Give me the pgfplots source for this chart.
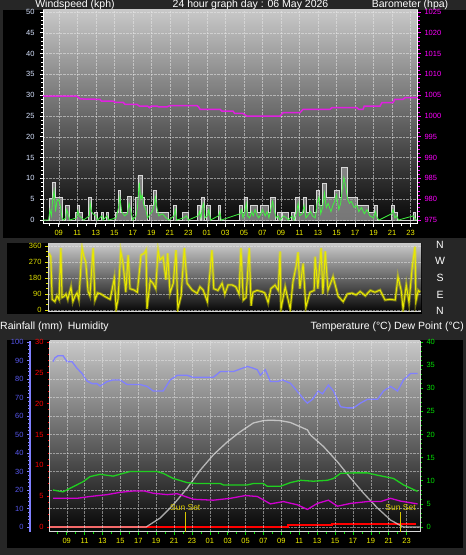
\documentclass[border=0pt]{standalone}
\usepackage{pgfplots}
\pgfplotsset{compat=1.18}
\usepackage{fontspec}
\setmainfont{Liberation Sans}
\definecolor{bgdark}{HTML}{262626}
\definecolor{gtop}{HTML}{C8C8C8}
\definecolor{gbot}{HTML}{050505}
\definecolor{windlab}{HTML}{D8E4FF}
\definecolor{baro}{HTML}{E020E0}
\definecolor{barolab}{HTML}{FF00FF}
\definecolor{xlab}{HTML}{F0F000}
\definecolor{gust}{HTML}{D8D8D8}
\definecolor{speed}{HTML}{40F040}
\definecolor{dirc}{HTML}{E8E800}
\definecolor{dirlab}{HTML}{E0E000}
\definecolor{humc}{HTML}{8080FF}
\definecolor{humlab}{HTML}{5858F0}
\definecolor{rainc}{HTML}{FF0000}
\definecolor{tempc}{HTML}{20D020}
\definecolor{templab}{HTML}{00E000}
\definecolor{dewc}{HTML}{D000D0}
\definecolor{sunc}{HTML}{D8C800}
\definecolor{gridc}{HTML}{E8E8E8}
\pgfplotsset{
  wx/.style={scale only axis, anchor=south west,
    /pgf/number format/assume math mode=true,
    /pgf/number format/1000 sep={},
    ticklabel style={font=\fontsize{7.5}{8}\selectfont},
    tick align=outside, major tick length=3pt, minor tick length=2pt,
  },
  hours/.style={xtick={9,11,...,47},
    xticklabels={09,11,13,15,17,19,21,23,01,03,05,07,09,11,13,15,17,19,21,23},
    minor xtick={8,10,...,46}, xticklabel style={xlab}},
}
\begin{document}
\begin{tikzpicture}[x=1pt,y=1pt]
\useasboundingbox (0,0) rectangle (466,555);
\fill[bgdark] (0,0) rectangle (466,555);
\fill[black] (3,317) rectangle (466,545);
\fill[black] (7,241) rectangle (422,312);
\fill[black] (7,7) rectangle (463,215);
\begin{scope}[font=\fontsize{10.5}{11}\selectfont, white]
\node[anchor=base] at (75,547.5) {Windspeed (kph)};
\node[anchor=base] at (250.5,547.5) {24 hour graph day : 06 May 2026};
\node[anchor=base] at (410,547.5) {Barometer (hpa)};
\node[anchor=base west, inner sep=0pt] at (0,225) {Rainfall (mm)\enspace Humidity};
\node[anchor=base east, inner sep=0pt] at (464,225) {Temperature (°C) Dew Point (°C)};
\node[anchor=center] at (440,310) {N};
\node[anchor=center] at (440,294) {W};
\node[anchor=center] at (440,277) {S};
\node[anchor=center] at (440,260) {E};
\node[anchor=center] at (440,244) {N};
\end{scope}
% ---------------- Panel 1: wind speed ----------------
\begin{axis}[wx, hours, at={(43pt,331pt)}, width=375pt, height=214pt,
  xmin=7.3, xmax=47.8, ymin=-0.96, ymax=50.48,
  axis background/.style={top color=gtop, bottom color=gbot},
  axis x line*=bottom, axis y line*=left,
  axis line style={white, line width=1pt},
  tick style={white, line width=0.6pt},
  ytick={0,5,...,50}, minor ytick={1,2,...,49},
  yticklabel style={windlab, xshift=-2pt},
  grid=major, major grid style={gridc, densely dotted, line width=0.4pt, opacity=0.55},
]
\addplot[draw=gust, fill=gray!70, fill opacity=0.7, line width=0.8pt] coordinates {
(7.3,0) (7.95,0) (7.95,5.2) (8.3,5.2) (8.3,9) (8.65,9) (8.65,5.5) (9.35,5.5) (9.35,0)
(9.7,0) (9.7,3.6) (10.2,3.6) (10.2,0)
(10.8,0) (10.8,1.8) (11.0,1.8) (11.0,3.5) (11.2,3.5) (11.2,1.8) (11.6,1.8) (11.6,0)
(12.25,0) (12.25,5.5) (12.55,5.5) (12.55,0)
(12.9,0) (12.9,1.8) (13.15,1.8) (13.15,0)
(13.6,0) (13.6,1.8) (13.8,1.8) (13.8,0)
(14.15,0) (14.15,1.8) (14.35,1.8) (14.35,0)
(15.1,0) (15.1,1.8) (15.4,1.8) (15.4,7.1) (15.7,7.1) (15.7,1.8) (16.45,1.8) (16.45,5.6) (16.9,5.6) (16.9,0)
(17.3,0) (17.3,5.5) (17.55,5.5) (17.55,10.7) (18.0,10.7) (18.0,5.5) (18.3,5.5) (18.3,3.5) (18.6,3.5) (18.6,0)
(18.8,0) (18.8,3.5) (19.25,3.5) (19.25,7.1) (19.6,7.1) (19.6,1.8) (20.8,1.8) (20.8,0)
(21.4,0) (21.4,3.5) (21.7,3.5) (21.7,0)
(22.4,0) (22.4,1.8) (23.0,1.8) (23.0,0)
(24.0,0) (24.0,3.5) (24.25,3.5) (24.25,0)
(24.45,0) (24.45,5.5) (24.7,5.5) (24.7,0)
(25.0,0) (25.0,3.5) (25.35,3.5) (25.35,0)
(26.2,0) (26.2,3.5) (26.5,3.5) (26.5,0)
(28.55,0) (28.55,3.5) (28.8,3.5) (28.8,1.8) (29.0,1.8) (29.0,5.5) (29.35,5.5) (29.35,1.8) (29.75,1.8) (29.75,3.5) (30.5,3.5) (30.5,1.8) (30.75,1.8) (30.75,3.5) (31.6,3.5) (31.6,1.8) (31.9,1.8) (31.9,5.5) (32.35,5.5) (32.35,0)
(32.6,0) (32.6,1.8) (33.0,1.8) (33.0,0)
(33.2,0) (33.2,1.8) (33.75,1.8) (33.75,0)
(34.1,0) (34.1,1.8) (34.4,1.8) (34.4,0)
(34.6,0) (34.6,5.5) (34.95,5.5) (34.95,1.8) (35.4,1.8) (35.4,5.5) (35.7,5.5) (35.7,1.8) (36.1,1.8) (36.1,3.5) (36.5,3.5) (36.5,1.8) (36.8,1.8) (36.8,7.1) (37.2,7.1) (37.2,3.5) (37.5,3.5) (37.5,8.8) (37.9,8.8) (37.9,5.5) (38.75,5.5) (38.75,7.1) (39.3,7.1) (39.3,5.5) (39.5,5.5) (39.5,12.7) (40.15,12.7) (40.15,5.5) (41.3,5.5) (41.3,3.5) (42.4,3.5) (42.4,1.8) (43.1,1.8) (43.1,3.5) (43.4,3.5) (43.4,0)
(44.9,0) (44.9,3.5) (45.2,3.5) (45.2,1.8) (45.6,1.8) (45.6,0)
(47.25,0) (47.25,1.8) (47.5,1.8) (47.5,0) (47.8,0)
} \closedcycle;
\addplot[speed, line width=0.8pt] coordinates {
(7.3,0) (7.9,0) (8.05,2.5) (8.2,1) (8.35,5) (8.5,7) (8.65,2) (8.8,4.5) (9.0,5) (9.2,3) (9.35,0.5) (9.5,0) (9.75,0.5) (9.85,2.5) (10.0,1.5) (10.2,0) (10.9,0.5) (11.05,2.2) (11.2,1) (11.5,0.5) (11.7,0) (12.3,1) (12.4,4) (12.55,2) (12.7,1.5) (13.0,1) (13.2,0) (13.65,1) (13.8,0) (14.2,1) (14.4,0) (15.2,0.5) (15.45,3) (15.6,5.5) (15.8,2) (16.1,1) (16.4,1.5) (16.6,4) (16.8,2) (17.0,0) (17.35,1) (17.5,3) (17.7,9) (17.85,5) (18.0,6) (18.2,3.5) (18.4,2.5) (18.6,0.5) (18.9,1.5) (19.1,2) (19.3,3.5) (19.45,5.5) (19.6,3) (19.8,1) (20.2,1.5) (20.6,0.5) (20.9,0) (21.45,1) (21.6,2.5) (21.75,0) (22.5,0.5) (22.8,1) (23.0,0) (24.05,1) (24.2,2) (24.35,0.5) (24.5,3) (24.65,4) (24.8,0.5) (25.05,1) (25.2,2.5) (25.4,0) (26.25,1) (26.4,2) (26.55,0) (28.6,1.5) (28.75,2.5) (28.9,0.5) (29.1,2) (29.25,4) (29.4,1) (29.6,0.5) (29.85,2) (30.0,1) (30.2,2.5) (30.45,1) (30.6,0.5) (30.85,1.5) (31.0,2.5) (31.3,1) (31.5,2) (31.7,0.5) (31.95,3) (32.1,4.5) (32.3,2) (32.5,0.5) (32.7,1) (32.9,0) (33.3,1) (33.6,0.5) (33.8,0) (34.2,1) (34.4,0) (34.7,2) (34.85,4) (35.0,1) (35.3,1.5) (35.5,3.5) (35.7,0.5) (36.2,2) (36.4,1) (36.7,0.5) (36.9,4) (37.1,5.5) (37.3,1.5) (37.5,3) (37.7,6.5) (37.9,3) (38.1,4) (38.4,2) (38.6,3.5) (38.8,4.5) (39.0,6) (39.25,2.5) (39.45,4) (39.6,7) (39.8,10.2) (40.0,8) (40.2,5) (40.4,4) (40.6,4.5) (40.9,3) (41.2,3.5) (41.4,2) (41.7,3) (42.0,1.5) (42.3,2.5) (42.6,1) (43.0,0.5) (43.2,2) (43.4,0.5) (43.6,0) (44.95,1.5) (45.1,2.5) (45.3,0.5) (45.5,1) (45.7,0) (47.3,1) (47.45,0.5) (47.6,0) (47.8,0)
};
\end{axis}
\begin{axis}[wx, at={(43pt,331pt)}, width=375pt, height=214pt,
  xmin=7.3, xmax=47.8, ymin=974.04, ymax=1025.48,
  axis x line=none, axis y line*=right,
  axis line style={white, line width=1pt},
  tick style={barolab, line width=0.6pt},
  ytick={975,980,...,1025}, minor ytick={976,...,1024},
  yticklabel style={barolab},
]
\addplot[baro, line width=1.5pt] coordinates {
(7.3,1004.76) (10.97,1004.76) (11.3,1004.1) (13.46,1004.0) (13.6,1003.6) (14.86,1003.6) (15.08,1003.3) (15.94,1003.3) (16.16,1002.8) (17.45,1002.8) (17.7,1002.4) (18.6,1002.4) (18.8,1002.0) (19.0,1002.4) (19.61,1002.4) (19.8,1002.2) (20.69,1002.2) (21.02,1002.5) (23.93,1002.5) (24.1,1002.2) (24.26,1001.6) (26.42,1001.6) (26.6,1001.2) (27.82,1001.2) (28.0,1000.6) (28.9,1000.6) (29.33,999.95) (32.9,999.95) (33.22,1000.8) (35.06,1000.8) (35.38,1001.6) (38.3,1001.6) (38.5,1002.0) (41.2,1002.0) (41.4,1001.6) (41.86,1001.6) (42.0,1002.4) (43.7,1002.4) (43.9,1003.2) (45.1,1003.2) (45.3,1004.0) (46.18,1004.0) (46.4,1004.4) (47.8,1004.4)
};
\end{axis}
% ---------------- Panel 2: wind direction ----------------
\begin{axis}[wx, at={(48pt,243pt)}, width=373pt, height=68pt,
  xmin=7.3, xmax=47.8, ymin=-11.25, ymax=371.25,
  axis background/.style={top color=gtop, bottom color=gbot},
  axis x line*=bottom, axis y line*=left,
  axis line style={white!85!black, line width=1pt},
  xtick=\empty,
  ytick={0,90,180,270,360}, minor ytick={30,60,...,330},
  tick style={dirlab, line width=0.6pt},
  yticklabel style={dirlab},
  ymajorgrids, major grid style={gridc, densely dotted, line width=0.4pt, opacity=0.5},
]
\pgfplotstableread{
h d
7.4 320
7.6 300
7.75 60
8.05 47
8.28 80
8.5 60
8.7 349
8.82 70
9.0 75
9.25 90
9.45 60
9.7 110
9.8 129
10.0 47
10.25 80
10.45 96
10.65 60
11.0 349
11.2 300
11.4 270
11.65 104
11.85 80
12.2 349
12.4 56
12.7 96
13.05 90
13.5 75
14.05 60
14.5 180
14.7 6
14.9 60
15.2 330
15.45 262
15.75 100
16.0 309
16.2 120
16.65 112
17.0 100
17.4 309
17.75 319
17.95 337
18.05 6
18.4 168
18.7 150
19.0 120
19.25 337
19.45 281
19.8 300
20.1 170
20.3 319
20.55 96
20.9 150
21.2 337
21.4 6
21.75 80
22.1 349
22.4 150
22.95 112
23.5 94
23.8 130
24.15 112
24.6 47
25.1 337
25.3 120
25.75 110
26.2 150
26.5 90
26.85 141
27.3 141
27.7 130
28.05 90
28.25 349
28.5 56
28.8 70
29.15 349
29.35 24
29.55 100
30.0 110
30.55 103
30.85 95
31.2 42
31.5 120
31.95 140
32.3 110
32.5 330
32.6 6
33.05 130
33.6 6
33.9 159
34.25 250
34.45 325
34.65 120
35.0 262
35.3 15
35.75 100
36.2 110
36.3 300
36.6 120
36.95 349
37.15 90
37.4 330
37.7 112
38.25 187
38.8 78
39.35 47
39.8 90
40.3 95
40.75 85
41.2 104
41.75 80
42.3 110
42.8 100
43.35 112
43.9 56
44.45 60
45.0 56
45.3 187
45.65 110
45.85 6
46.2 140
46.5 42
46.85 243
47.15 356
47.25 50
47.5 110
47.7 100
}\dirtable
\addplot[dirc, line width=2.8pt, opacity=0.4] table[x=h, y=d] {\dirtable};
\addplot[dirc, line width=1pt] table[x=h, y=d] {\dirtable};
\end{axis}
% ---------------- Panel 3: humidity / rain / temperature ----------------
\begin{axis}[wx, at={(50pt,23pt)}, width=370pt, height=191pt,
  xmin=7.13, xmax=48.5, ymin=-2.70, ymax=100.54,
  axis background/.style={top color=gtop, bottom color=gbot},
  axis x line=none, axis y line*=left,
  axis y line shift=20pt,
  axis line style={humc, line width=1.5pt},
  xtick=\empty,
  ytick={0,10,...,100}, minor ytick={2,4,...,98},
  tick style={humc, line width=0.6pt},
  yticklabel style={humlab},
  ymajorgrids, major grid style={gridc, densely dotted, line width=0.4pt, opacity=0.5},
]
\addplot[humc, line width=1.3pt] coordinates {
(7.47,89.4) (7.69,91.5) (8.03,92.6) (8.59,92.6) (9.03,89.4) (9.59,89.4) (10.15,85.8) (10.71,83) (11.27,78.9) (11.83,77.5) (12.39,77.5) (12.73,76.2) (13.51,78.6) (14.19,79.5) (14.97,79.5) (15.75,77) (17.21,77) (17.99,76) (18.67,73.5) (19.79,73.5) (20.57,79.5) (21.35,82) (22.47,82) (23.15,80.9) (25.39,80.9) (26.17,84) (27.63,84) (28.41,85.4) (29.19,86.8) (29.75,86) (30.31,85) (30.65,82) (31.21,85) (31.77,78.6) (32.55,78.6) (33.11,79.5) (34.01,77.7) (34.35,75.8) (35.13,71.3) (35.58,68.5) (35.91,67) (36.47,69) (37.13,73.5) (37.6,72) (38.26,76.7) (38.83,73.5) (39.61,65) (40.39,64.4) (41.07,64.4) (41.85,67) (42.63,69) (43.75,69) (44.42,73.5) (45.21,76) (45.99,73.5) (46.66,79.5) (47.45,83) (48.23,83)
};
\end{axis}
\begin{axis}[wx, at={(50pt,23pt)}, width=370pt, height=191pt,
  xmin=7.13, xmax=48.5, ymin=-0.81, ymax=30.16,
  axis x line=none, axis y line*=left,
  axis line style={white!85!black, line width=1pt},
  ytick={0,5,...,30}, minor ytick={1,...,29},
  tick style={rainc, line width=0.8pt},
  yticklabel style={rainc},
]
\addplot[rainc, line width=1.8pt] coordinates {
(7.13,0) (33.78,0) (33.78,0.35) (38.7,0.35) (38.7,0.55) (48.0,0.55)
};
\end{axis}
\begin{axis}[wx, hours, at={(50pt,23pt)}, width=370pt, height=191pt,
  xmin=7.13, xmax=48.5, ymin=-1.08, ymax=40.22,
  axis x line*=bottom, axis y line*=right,
  axis line style={white!85!black, line width=1pt},
  tick style={templab, line width=0.6pt},
  ytick={0,5,...,40}, minor ytick={1,...,39},
  yticklabel style={templab},
  xmajorgrids, major grid style={gridc, densely dotted, line width=0.4pt, opacity=0.5},
]
\addplot[gray!20, line width=1.3pt, opacity=0.7] coordinates {
(7.13,0) (17.88,0) (19.45,1.95) (20.91,4.8) (22.47,8.4) (23.93,12.3) (25.39,15.6) (26.95,18.4) (28.07,20.1) (28.41,20.6) (29.87,22.5) (30.98,23.0) (31.77,23.1) (32.9,23.0) (34.01,22.6) (35.91,21) (36.25,19.9) (37.71,17.4) (39.27,14.1) (40.73,10.6) (42.19,7.3) (43.75,4.1) (45.21,1.5) (46.33,0.3) (46.66,0) (48.5,0)
};
\addplot[tempc, line width=1.3pt] coordinates {
(7.47,8.0) (8.59,7.6) (9.71,8.7) (10.83,9.8) (11.61,10.9) (12.73,11.4) (14.19,11.0) (15.31,11.6) (16.09,12.0) (19.11,12.0) (19.79,11.6) (20.91,10.5) (22.47,9.6) (23.59,9.4) (26.17,9.4) (26.51,9.1) (29.19,9.1) (29.86,9.4) (30.98,9.4) (31.43,8.8) (32.89,8.8) (34.01,9.6) (35.13,10.1) (36.58,9.9) (38.15,10.1) (38.83,10.5) (39.61,11.6) (41.07,11.7) (42.63,11.7) (43.75,11.2) (45.54,10.5) (46.66,9.1) (48.23,7.7)
};
\addplot[dewc, line width=1.3pt] coordinates {
(7.47,6.2) (10.15,6.2) (11.61,6.6) (13.51,7.0) (14.97,7.5) (16.54,7.8) (17.65,7.8) (18.67,7.3) (20.24,7.0) (21.35,7.2) (23.15,6.0) (25.39,5.8) (27.29,6.2) (28.97,6.8) (30.31,6.6) (31.77,5.0) (33.23,5.5) (34.79,4.8) (35.91,3.8) (37.02,5.1) (38.26,5.8) (39.27,4.5) (40.73,5.1) (42.63,5.5) (44.09,5.5) (45.21,6.2) (46.32,5.6) (48.23,5.0)
};
\addplot[sunc, line width=1pt] coordinates {(22.25,-1.08) (22.25,3.2)};
\addplot[sunc, line width=1pt] coordinates {(46.32,-1.08) (46.32,3.2)};
\node[sunc, anchor=south, inner sep=0.5pt, font=\fontsize{8.5}{9}\selectfont] at (axis cs:22.25,3.3) {Sun Set};
\node[sunc, anchor=south, inner sep=0.5pt, font=\fontsize{8.5}{9}\selectfont] at (axis cs:46.32,3.3) {Sun Set};
\end{axis}
\end{tikzpicture}
\end{document}
